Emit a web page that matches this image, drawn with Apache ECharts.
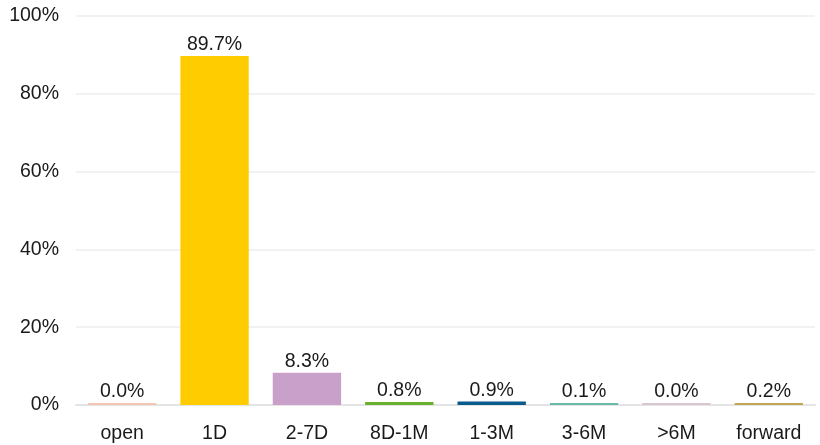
<!DOCTYPE html>
<html><head><meta charset="utf-8">
<script src="https://cdn.jsdelivr.net/npm/echarts@6/dist/echarts.min.js"></script>
<style>html,body{margin:0;padding:0;background:#fff}#c{width:820px;height:445px}</style>
</head><body><div id="c"></div>
<script>
const categories = ['open','1D','2-7D','8D-1M','1-3M','3-6M','>6M','forward'];
const values = [0.0, 89.7, 8.3, 0.8, 0.9, 0.1, 0.0, 0.2];
const colors = ['#f3c7b3','#ffcc00','#c9a0c9','#69b02d','#0b5a8c','#6cb9a8','#d9c6d1','#c4a553'];
const FONT = 'Liberation Sans, Arial, Helvetica, sans-serif';

const chart = echarts.init(document.getElementById('c'), null, {renderer:'canvas'});
chart.setOption({
  animation:false,
  grid:{left:76,right:5,top:16,bottom:40,containLabel:false},
  xAxis:{type:'category',data:categories,
    axisLine:{show:true,lineStyle:{color:'#e4e4e4',width:2}},
    axisTick:{show:false},
    axisLabel:{color:'#1a1a1a',fontSize:19.5,fontFamily:FONT,margin:19}},
  yAxis:{type:'value',min:0,max:100,interval:20,
    axisLabel:{formatter:'{value}%',color:'#1a1a1a',fontSize:19.5,fontFamily:FONT,margin:17},
    splitLine:{lineStyle:{color:'#eeeeee',width:1.5}},
    axisLine:{show:false},axisTick:{show:false}},
  series:[{type:'bar',barWidth:'74%',barMinHeight:2,
    data:values.map((v,i)=>({value:v,itemStyle:{color:colors[i]}})),
    label:{show:true,position:'top',distance:1,color:'#1a1a1a',fontSize:19.5,fontFamily:FONT,
      formatter:p=>p.value.toFixed(1)+'%'}}]
});
</script></body></html>
